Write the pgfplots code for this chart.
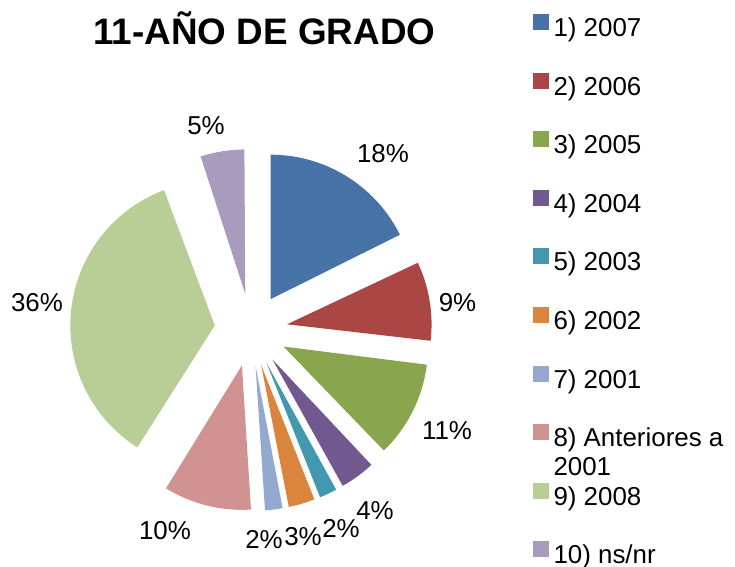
\documentclass[border=0pt]{standalone}
\usepackage{pgfplots}
\usepackage{pgfplotstable}
\pgfplotsset{compat=1.18}
\usepackage{fontspec}
\setmainfont{Liberation Sans}

\definecolor{c0}{HTML}{4672A8}
\definecolor{c1}{HTML}{AA4643}
\definecolor{c2}{HTML}{89A54E}
\definecolor{c3}{HTML}{71588F}
\definecolor{c4}{HTML}{4198AF}
\definecolor{c5}{HTML}{DB843D}
\definecolor{c6}{HTML}{93A9CF}
\definecolor{c7}{HTML}{D19392}
\definecolor{c8}{HTML}{B9CD96}
\definecolor{c9}{HTML}{A99BBD}

% percentage of each category, in pie order (clockwise from 12 o'clock)
\pgfplotstableread{
pct
18
9
11
4
2
3
2
10
36
5
}\piedata

\begin{document}
\begin{tikzpicture}
\begin{axis}[
  width=735bp, height=567bp, scale only axis,
  xmin=0, xmax=735, ymin=0, ymax=567,
  hide axis, clip=false,
  legend entries={1) 2007, 2) 2006, 3) 2005, 4) 2004, 5) 2003, 6) 2002, 7) 2001,
    {\rlap{\raisebox{-29bp}[0pt][0pt]{2001}}8) Anteriores a}, 9) 2008, 10) ns/nr},
  legend image code/.code={\fill[#1] (0bp,0bp) rectangle (16bp,16bp);},
  legend style={at={(0.72517,0.97531)}, anchor=north west, draw=none, fill=none,
    inner sep=0pt, outer sep=0pt, row sep=31.1bp, column sep=4.5bp,
    cells={anchor=west},
    nodes={inner sep=0pt, font=\fontsize{26}{31}\selectfont, text height=18bp, text depth=5bp}},
]
\xdef\cum{0}
\pgfplotsinvokeforeach{0,...,9}{
  \pgfplotstablegetelem{#1}{pct}\of\piedata
  \pgfmathsetmacro\sa{90-3.6*\cum}
  \pgfmathsetmacro\sb{90-3.6*(\cum+\pgfplotsretval)}
  \pgfmathsetmacro\sm{(\sa+\sb)/2}
  \pgfmathsetmacro\newcum{\cum+\pgfplotsretval}
  \xdef\cum{\newcum}
  \addplot[fill=c#1, draw=none, variable=\t, samples at={-1,0,0.02,...,1}]
    ({251+36.5*cos(\sm)+(\t<0 ? 0 : 144.5*cos(\sa+(\sb-\sa)*\t))},
     {237+36.5*sin(\sm)+(\t<0 ? 0 : 144.5*sin(\sa+(\sb-\sa)*\t))});
}
\begin{scope}[every node/.style={anchor=base, inner sep=0pt, font=\fontsize{26}{31}\selectfont}]
\node at (axis cs:383,404) {18\%};
\node at (axis cs:457.5,255) {9\%};
\node at (axis cs:447,127) {11\%};
\node at (axis cs:375,47) {4\%};
\node at (axis cs:341,30) {2\%};
\node at (axis cs:303,22) {3\%};
\node at (axis cs:264,19) {2\%};
\node at (axis cs:165,28) {10\%};
\node at (axis cs:37,255) {36\%};
\node at (axis cs:206,432) {5\%};
\end{scope}
\node[anchor=base, inner sep=0pt, font=\fontsize{37}{44}\selectfont\bfseries] at (axis cs:264.5,522) {11-AÑO DE GRADO};
\end{axis}
\pgfresetboundingbox
\path (current axis.south west) rectangle (current axis.north east);
\end{tikzpicture}
\end{document}
